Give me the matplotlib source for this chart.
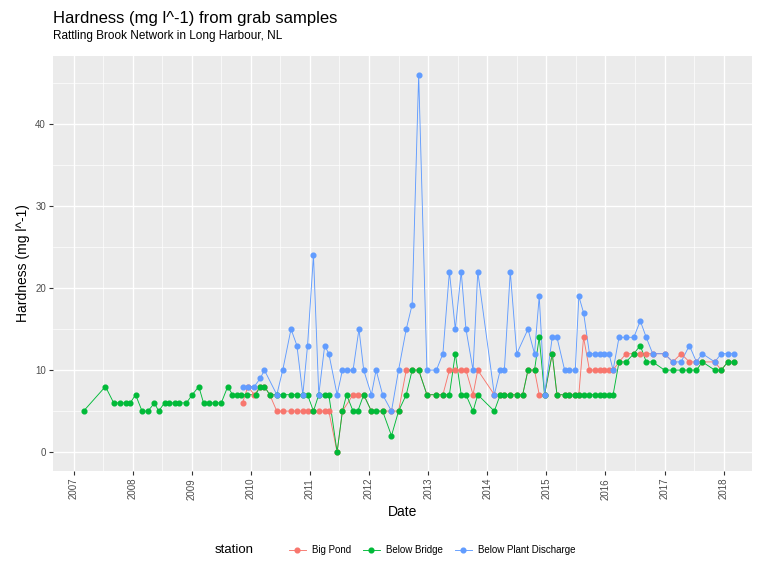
import numpy as np
import matplotlib
matplotlib.use("Agg")
import matplotlib.pyplot as plt
from matplotlib.ticker import MultipleLocator, FixedLocator

plt.rcParams['font.family'] = ['Liberation Sans', 'DejaVu Sans']

# decimal-year sample dates and hardness values
bridge_t = [2007.17, 2007.54, 2007.68, 2007.78, 2007.88, 2007.96, 2008.05, 2008.16, 2008.26, 2008.37,
            2008.44, 2008.54, 2008.62, 2008.71, 2008.79, 2008.91, 2009.01, 2009.12, 2009.20, 2009.30,
            2009.39, 2009.50, 2009.61, 2009.69, 2009.76, 2009.84, 2009.94, 2010.08, 2010.16, 2010.23,
            2010.32, 2010.44, 2010.54, 2010.68, 2010.78, 2010.88, 2010.96, 2011.06, 2011.15, 2011.25,
            2011.32, 2011.46, 2011.55, 2011.62, 2011.73, 2011.81, 2011.91, 2012.04, 2012.12, 2012.23,
            2012.38, 2012.50, 2012.63, 2012.73, 2012.84, 2012.98, 2013.14, 2013.25, 2013.36, 2013.46,
            2013.56, 2013.64, 2013.76, 2013.84, 2014.12, 2014.22, 2014.29, 2014.39, 2014.50, 2014.60,
            2014.69, 2014.80, 2014.88, 2014.97, 2015.10, 2015.18, 2015.31, 2015.39, 2015.49, 2015.55,
            2015.63, 2015.73, 2015.82, 2015.90, 2015.98, 2016.06, 2016.13, 2016.23, 2016.35, 2016.48,
            2016.59, 2016.69, 2016.80, 2017.00, 2017.14, 2017.30, 2017.42, 2017.54, 2017.64, 2017.85,
            2017.96, 2018.07, 2018.18]
bridge_v = [5, 8, 6, 6, 6, 6, 7, 5, 5, 6,
            5, 6, 6, 6, 6, 6, 7, 8, 6, 6,
            6, 6, 8, 7, 7, 7, 7, 7, 8, 8,
            7, 7, 7, 7, 7, 7, 7, 5, 7, 7,
            7, 0, 5, 7, 5, 5, 7, 5, 5, 5,
            2, 5, 7, 10, 10, 7, 7, 7, 7, 12,
            7, 7, 5, 7, 5, 7, 7, 7, 7, 7,
            10, 10, 14, 7, 12, 7, 7, 7, 7, 7,
            7, 7, 7, 7, 7, 7, 7, 11, 11, 12,
            13, 11, 11, 10, 10, 10, 10, 10, 11, 10,
            10, 11, 11]

plant_t = [2009.86, 2009.95, 2010.06, 2010.16, 2010.23, 2010.44, 2010.54, 2010.68, 2010.78, 2010.88,
           2010.96, 2011.06, 2011.15, 2011.25, 2011.32, 2011.46, 2011.55, 2011.62, 2011.73, 2011.83,
           2011.91, 2012.04, 2012.12, 2012.23, 2012.38, 2012.50, 2012.63, 2012.73, 2012.84, 2012.98,
           2013.14, 2013.25, 2013.36, 2013.46, 2013.56, 2013.64, 2013.76, 2013.84, 2014.12, 2014.22,
           2014.29, 2014.39, 2014.50, 2014.69, 2014.80, 2014.88, 2014.97, 2015.10, 2015.18, 2015.31,
           2015.39, 2015.49, 2015.55, 2015.63, 2015.73, 2015.82, 2015.90, 2015.98, 2016.06, 2016.13,
           2016.23, 2016.35, 2016.48, 2016.59, 2016.69, 2016.80, 2017.00, 2017.14, 2017.28, 2017.42,
           2017.54, 2017.64, 2017.85, 2017.96, 2018.07, 2018.18]
plant_v = [8, 8, 8, 9, 10, 7, 10, 15, 13, 7,
           13, 24, 7, 13, 12, 7, 10, 10, 10, 15,
           10, 7, 10, 7, 5, 10, 15, 18, 46, 10,
           10, 12, 22, 15, 22, 15, 10, 22, 7, 10,
           10, 22, 12, 15, 12, 19, 7, 14, 14, 10,
           10, 10, 19, 17, 12, 12, 12, 12, 12, 10,
           14, 14, 14, 16, 14, 12, 12, 11, 11, 13,
           11, 12, 11, 12, 12, 12]

pond_t = [2009.86, 2009.95, 2010.06, 2010.16, 2010.23, 2010.32, 2010.44, 2010.54, 2010.68, 2010.78,
          2010.88, 2010.96, 2011.06, 2011.15, 2011.25, 2011.32, 2011.46, 2011.55, 2011.73, 2011.81,
          2011.91, 2012.04, 2012.23, 2012.38, 2012.50, 2012.63, 2012.73, 2012.84, 2012.98, 2013.14,
          2013.25, 2013.36, 2013.46, 2013.56, 2013.64, 2013.76, 2013.84, 2014.12, 2014.22, 2014.29,
          2014.39, 2014.50, 2014.60, 2014.69, 2014.80, 2014.88, 2014.97, 2015.10, 2015.18, 2015.31,
          2015.39, 2015.49, 2015.55, 2015.63, 2015.73, 2015.82, 2015.90, 2015.98, 2016.06, 2016.13,
          2016.23, 2016.35, 2016.48, 2016.59, 2016.69, 2016.80, 2017.00, 2017.14, 2017.28, 2017.42,
          2017.54, 2017.64, 2017.85, 2017.96, 2018.07, 2018.18]
pond_v = [6, 8, 7, 8, 8, 7, 5, 5, 5, 5,
          5, 5, 5, 5, 5, 5, 0, 5, 7, 7,
          7, 5, 5, 5, 5, 10, 10, 10, 7, 7,
          7, 10, 10, 10, 10, 7, 10, 7, 7, 7,
          7, 7, 7, 10, 10, 7, 7, 12, 7, 7,
          7, 7, 7, 14, 10, 10, 10, 10, 10, 10,
          11, 12, 12, 12, 12, 12, 12, 11, 12, 11,
          11, 11, 11, 10, 11, 11]

stations = ["Big Pond", "Below Bridge", "Below Plant Discharge"]
colors = ["#F8766D", "#00BA38", "#619CFF"]
series = [(pond_t, pond_v), (bridge_t, bridge_v), (plant_t, plant_v)]
years = list(range(2007, 2019))

fig = plt.figure(figsize=(7.59, 5.64), dpi=100)
ax = fig.add_axes([53/759, 1-471/564, 699/759, (471-56)/564])
ax.set_facecolor("#EBEBEB")
for s in ax.spines.values():
    s.set_visible(False)

# lines first, then points (ggplot layer order)
for (t, v), c in zip(series, colors):
    ax.plot(t, v, color=c, lw=0.65, zorder=3)
handles = []
for (t, v), c, name in zip(series, colors, stations):
    ax.plot(t, v, color=c, lw=0, marker='o', markersize=3.4, zorder=4)
    handles.append(plt.Line2D([], [], color=c, lw=0.65, marker='o', markersize=3.4, label=name))

ax.set_xlim(2006.653, 2018.48)
ax.set_ylim(-2.3, 48.3)
ax.xaxis.set_major_locator(FixedLocator(years))
ax.xaxis.set_minor_locator(FixedLocator([y + 0.5 for y in range(2006, 2019)]))
ax.set_xticklabels([str(y) for y in years], rotation=90)
ax.yaxis.set_major_locator(MultipleLocator(10))
ax.yaxis.set_minor_locator(MultipleLocator(5))
ax.grid(which='major', color='white', lw=1.0, zorder=0)
ax.grid(which='minor', color='white', lw=0.5, zorder=0)
ax.set_axisbelow(True)
ax.tick_params(which='major', length=3, color='#333333', labelsize=7, labelcolor='#4D4D4D', pad=2)
ax.tick_params(which='minor', length=0)

ax.set_xlabel("Date", fontsize=10, labelpad=4)
ax.set_ylabel("Hardness (mg l^-1)", fontsize=10, labelpad=4)

fig.text(53/759, 1-19/564, "Hardness (mg l^-1) from grab samples", fontsize=12, va='center', ha='left')
fig.text(53/759, 1-36/564, "Rattling Brook Network in Long Harbour, NL", fontsize=8.5, va='center', ha='left')

fig.text(215/759, 1-550/564, "station", fontsize=9.5, va='center', ha='left')
fig.legend(handles=handles, loc='center', bbox_to_anchor=(432/759, 1-550/564), ncol=3,
           frameon=False, fontsize=7, handlelength=1.8, columnspacing=1.2, handletextpad=0.6)

fig.savefig("out.png", dpi=100)
